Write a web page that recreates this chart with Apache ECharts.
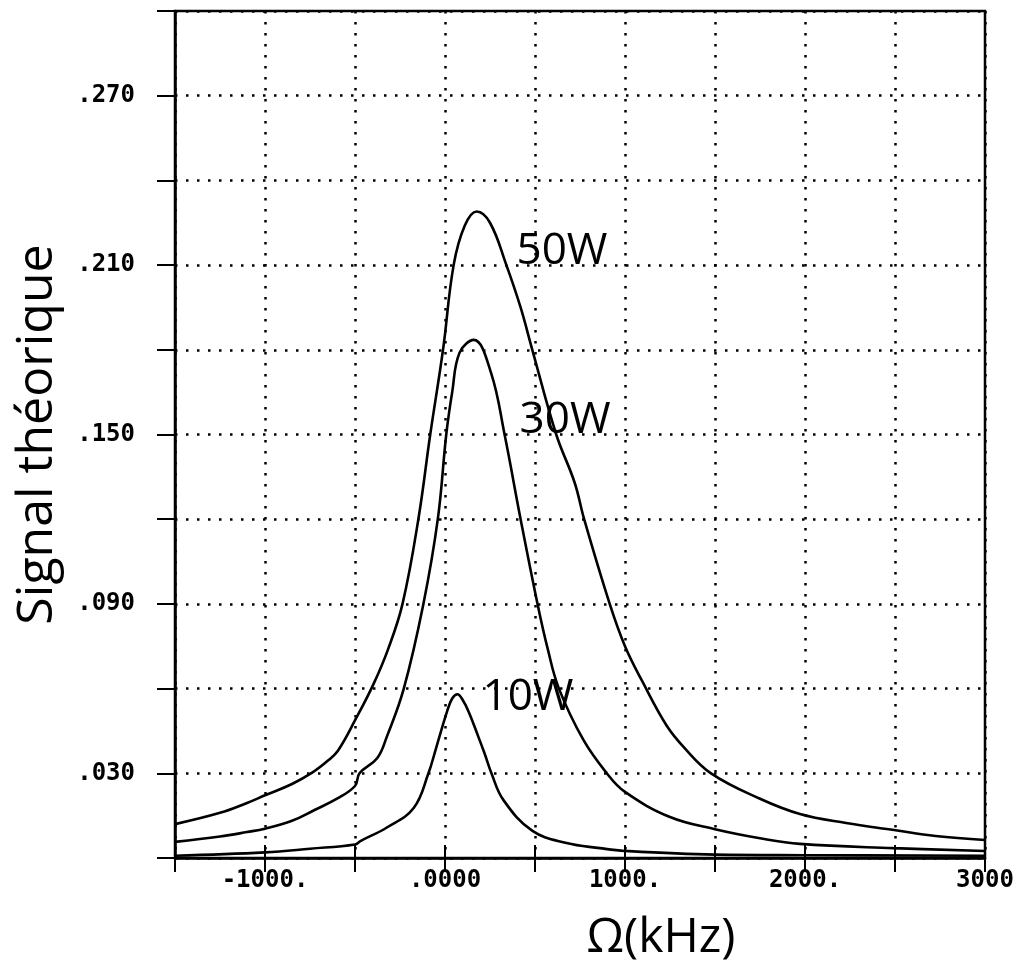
<!DOCTYPE html>
<html>
<head>
<meta charset="utf-8">
<script src="https://cdn.jsdelivr.net/npm/echarts@6/dist/echarts.min.js"></script>
<style>
html,body{margin:0;padding:0;background:#fff;}
#chart{width:1032px;height:970px;}
</style>
</head>
<body>
<div id="chart"></div>
<script>
// Series: [Omega (kHz), signal]
const curve50W = [
  [-1500, 0.012], [-1250, 0.016], [-1100, 0.0195], [-1000, 0.0222], [-850, 0.0262],
  [-736, 0.0303], [-650, 0.0345], [-595, 0.038], [-498, 0.049], [-398, 0.0615], [-316, 0.074],
  [-236, 0.090], [-148, 0.120], [-82, 0.150], [-11, 0.180], [48, 0.210],
  [110, 0.224], [176, 0.229], [250, 0.225], [341, 0.210], [420, 0.195],
  [485, 0.180], [618, 0.150], [720, 0.133], [773, 0.120], [915, 0.090],
  [1000, 0.075], [1095, 0.0627], [1230, 0.047], [1330, 0.039], [1478, 0.030],
  [1750, 0.021], [1972, 0.0156], [2228, 0.0124], [2495, 0.0099], [2725, 0.0078],
  [3000, 0.0064]
];
const curve30W = [
  [-1500, 0.0057], [-1250, 0.0076], [-1100, 0.0092], [-1000, 0.0104], [-850, 0.0132],
  [-725, 0.017], [-600, 0.021], [-500, 0.0255], [-475, 0.030], [-376, 0.0354],
  [-323, 0.043], [-229, 0.060], [-120, 0.090], [-40, 0.120], [7, 0.150],
  [40, 0.165], [81, 0.179], [160, 0.1835], [255, 0.172], [331, 0.150],
  [420, 0.120], [514, 0.090], [571, 0.074], [633, 0.060], [769, 0.0418],
  [899, 0.030], [998, 0.0235], [1250, 0.0145], [1500, 0.0102], [1750, 0.007],
  [1972, 0.005], [2490, 0.0035], [3000, 0.0025]
];
const curve10W = [
  [-1500, 0.0008], [-1000, 0.002], [-750, 0.0033], [-500, 0.0048], [-470, 0.006],
  [-323, 0.0108], [-174, 0.0177], [-92, 0.030], [-51, 0.0386], [12, 0.052],
  [40, 0.0565], [69, 0.058], [100, 0.0558], [132, 0.0517], [185, 0.043],
  [220, 0.037], [258, 0.030], [325, 0.0205], [486, 0.0096], [675, 0.0053],
  [861, 0.0035], [1000, 0.0025], [1500, 0.0012], [2000, 0.001], [3000, 0.0008]
];
// Curve annotations (data coordinates)
const annotationTexts = ['50W', '30W', '10W'];
const annotationX = [650, 667, 461];
const annotationY = [0.2148, 0.155, 0.057];

// Tick labels
const xLabelValues = [-1000, 0, 1000, 2000, 3000];
const xLabelTexts = ['-1000.', '.0000', '1000.', '2000.', '3000'];
const yLabelValues = [0.03, 0.09, 0.15, 0.21, 0.27];
const yLabelTexts = ['.030', '.090', '.150', '.210', '.270'];

const xTitle = 'Ω(kHz)';
const yTitle = 'Signal théorique';

function lookup(values, texts, v) {
  for (let i = 0; i < values.length; i++) {
    if (Math.abs(values[i] - v) < 1e-7) return texts[i];
  }
  return '';
}

const chart = echarts.init(document.getElementById('chart'), null, {renderer: 'canvas'});
const gridTop = 11, gridBottom = 112;
const gridH = 970 - gridTop - gridBottom;
const monoFont = {fontFamily: 'DejaVu Sans Mono', fontWeight: 'bold', fontSize: 24, color: '#000'};
const dotted = {type: [2.5, 8.5], color: '#000', width: 2.5};
const curveStyle = {color: '#000', width: 2.6};

const option = {
  backgroundColor: '#fff',
  animation: false,
  grid: {left: 175, right: 47, top: gridTop, bottom: gridBottom, show: true,
         borderColor: '#000', borderWidth: 2.5, backgroundColor: 'rgba(0,0,0,0)'},
  xAxis: [{
    type: 'value', min: -1500, max: 3000, interval: 500, position: 'bottom',
    axisLine: {show: true, onZero: false, lineStyle: {color: '#000', width: 2.5}},
    axisTick: {show: true, inside: false, length: 14, lineStyle: {color: '#000', width: 2}},
    axisLabel: Object.assign({margin: 11, formatter: v => lookup(xLabelValues, xLabelTexts, v)}, monoFont),
    splitLine: {show: true, lineStyle: dotted},
    name: xTitle, nameLocation: 'middle', nameGap: 56,
    nameTextStyle: {fontSize: 48, fontFamily: 'Open Sans', color: '#000', padding: [0, 0, 0, 162]}
  }, {
    type: 'value', min: -1500, max: 3000, interval: 500, position: 'top', offset: -gridH,
    axisLine: {show: false},
    axisTick: {show: true, inside: false, length: 13, lineStyle: {color: '#000', width: 2}},
    axisLabel: {show: false}, splitLine: {show: false}
  }],
  yAxis: [{
    type: 'value', min: 0, max: 0.3, interval: 0.03,
    axisLine: {show: true, onZero: false, lineStyle: {color: '#000', width: 2.5}},
    axisTick: {show: true, inside: false, length: 18, lineStyle: {color: '#000', width: 2}},
    axisLabel: Object.assign({margin: 40, formatter: v => lookup(yLabelValues, yLabelTexts, v)}, monoFont),
    splitLine: {show: true, lineStyle: dotted},
    name: yTitle, nameLocation: 'middle', nameGap: 112, nameRotate: 90,
    nameTextStyle: {fontSize: 50, fontFamily: 'Open Sans', color: '#000'}
  }],
  series: [
    {name: '50W', type: 'line', data: curve50W, showSymbol: false, smooth: 0.4, lineStyle: curveStyle},
    {name: '30W', type: 'line', data: curve30W, showSymbol: false, smooth: 0.4, lineStyle: curveStyle},
    {name: '10W', type: 'line', data: curve10W, showSymbol: false, smooth: 0.4, lineStyle: curveStyle},
    {name: 'labels', type: 'scatter', symbolSize: 1, itemStyle: {color: 'rgba(0,0,0,0)', opacity: 1},
     data: annotationTexts.map((t, i) => ({value: [annotationX[i], annotationY[i]], name: t})),
     label: {show: true, position: 'inside', formatter: p => p.name, opacity: 1,
             fontSize: 44, fontFamily: 'Open Sans', color: '#000'}}
  ]
};
chart.setOption(option);
</script>
</body>
</html>
